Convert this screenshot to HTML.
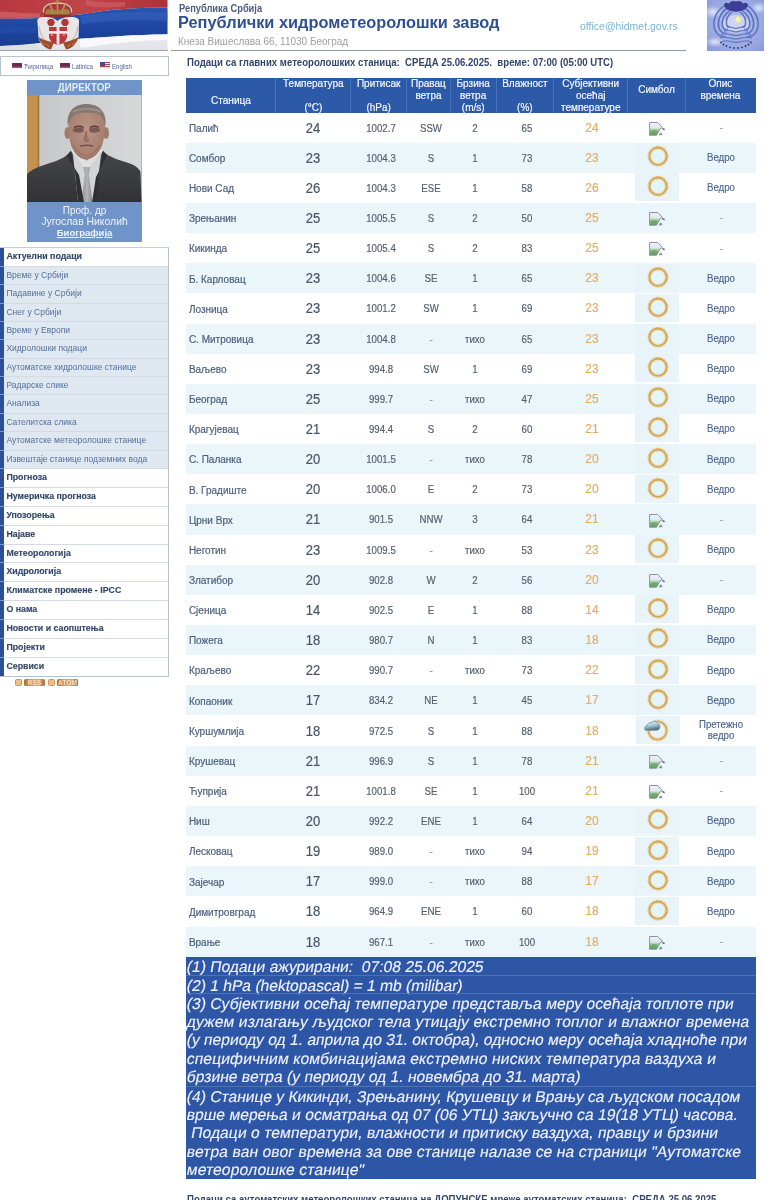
<!DOCTYPE html>
<html><head><meta charset="utf-8">
<style>
*{margin:0;padding:0;box-sizing:border-box}
html,body{width:784px;height:1200px;overflow:hidden;background:#fff}
body{position:relative;font-family:"Liberation Sans",sans-serif;color:#4b566a}
.a{position:absolute}
.hl{position:absolute;height:1px;background:#8d9aaa}
.t1{position:absolute;left:178.6px;top:3px;font-size:10px;font-weight:bold;color:#4a5d82;white-space:nowrap;transform:scaleX(0.93);transform-origin:0 0}
.t2{position:absolute;left:178px;top:12.4px;font-size:17.4px;font-weight:bold;color:#2e5092;white-space:nowrap;transform:scaleX(0.94);transform-origin:0 0}
.t3{position:absolute;left:178px;top:36px;font-size:10px;color:#a0a0a0;white-space:nowrap}
.mail{position:absolute;left:580px;top:19.5px;font-size:10.5px;color:#7cb6d8;white-space:nowrap}
.lang{position:absolute;left:0;top:55.9px;width:169px;height:20px;border:1.4px solid #b9c3cf;border-left-width:1.2px}
.lang span{position:absolute;top:6px;font-size:7px;color:#56659a;white-space:nowrap;transform:scaleX(0.87);transform-origin:0 0}
.fl{position:absolute;height:5px}
.dir{position:absolute;left:27.3px;top:80.3px;width:114.5px;height:161.6px;background:#6f94ca}
.dir .h{position:absolute;left:0;top:0;width:100%;height:14.3px;line-height:14.3px;text-align:center;font-weight:bold;font-size:11px;color:#e4ecf8;transform:scaleX(0.89)}
.dir .cap{position:absolute;left:0;width:100%;text-align:center;color:#eef3fb;white-space:nowrap}
.menu{position:absolute;left:0;top:247.3px;width:169.4px;border:1.2px solid #b8c3d0;border-left:none;border-top-color:#c4cdd8}
.mi,.si{position:absolute;left:0;width:168.5px;padding-left:6.4px;white-space:nowrap;border-top:1px solid #d2dbe5}
.mi{background:#fff;font-weight:bold;font-size:8.8px;color:#34496a;-webkit-text-stroke:0.15px currentColor}
.si{background:#dfe7f0;font-size:8.5px;color:#52709c}
.stp{position:absolute;left:0;width:3.9px;background:#2b4f99;border-top:1px solid #7f97c6}
.head{position:absolute;left:186.7px;top:55.8px;font-size:11px;font-weight:bold;color:#34466a;white-space:nowrap;transform:scaleX(0.873);transform-origin:0 0}
.thead{position:absolute;background:#2c5aa8}
.th{position:absolute;height:34.5px;padding-top:0.4px;text-align:center;color:#f2f5fb;font-size:10px;line-height:11.75px;white-space:nowrap;-webkit-text-stroke:0.2px #f2f5fb}
.th.c1{padding-top:17.4px;font-size:10.1px}
.th.c8{padding-top:5.7px}
.tsep{position:absolute;width:1px;background:#4a72b8}
.row{position:absolute;left:186px;width:569.5px;height:30.15px}
.rowb{background:#eaf6f9}
.roww{background:#fff}
.cell{position:absolute;height:30.15px;line-height:30.15px;padding-top:0.9px;font-size:10px;white-space:nowrap;color:#56616f;-webkit-text-stroke:0.2px currentColor}
.cell.st{padding-top:1.3px;color:#4f6280}
.cell.c{width:80px;text-align:center;padding-top:0}
.cell.tp{font-size:14px;color:#4a5567;transform:scaleX(0.93)}
.cell.n{font-size:11.5px;transform:scaleX(0.84)}
.cell.sj{font-size:13px;color:#e2ad6a;transform:scaleX(0.92)}
.cell.op{color:#52698f;font-size:11.5px;transform:scaleX(0.84);margin-top:-0.6px}
.cell.dm{color:#8e98a4}
.cell.ds{color:#a0a8b4;font-size:11px;padding-top:0;margin-top:-0.5px}
.cell.two{line-height:11.2px;padding-top:3.6px;font-size:11.5px}
.img{position:absolute;width:44px;height:28px}
.img svg,.bimg svg{display:block}
.bimg{position:absolute;width:17px;height:14px}
.notes{position:absolute;left:186px;width:569.5px;background:#2d56a6}
.nsep{position:absolute;left:186px;width:569.5px;height:1px;background:#4d72b8}
.nl{position:absolute;left:186.3px;font-size:15.7px;line-height:18.35px;color:#eef0fc;white-space:nowrap;-webkit-text-stroke:0.15px #eef0fc;transform:skewX(-10deg);transform-origin:0 14px}
.foot{position:absolute;left:186.7px;top:1193.4px;font-size:11px;font-weight:bold;color:#34466a;white-space:nowrap;transform:scaleX(0.873);transform-origin:0 0}
.rb{position:absolute;top:679px;height:7.4px;width:30.2px}
.rb i{position:absolute;left:0;top:0;width:7.2px;height:7.4px;background:#efbf88;border:1px solid #cf915a;border-radius:1.5px}
.rb b{position:absolute;left:8.6px;top:0;width:21.6px;height:7.4px;background:linear-gradient(90deg,#b06a38,#d49a66 30%,#e0aa78 70%,#b06a38);border-radius:1.5px;font-size:6.3px;line-height:7.4px;text-align:center;color:#f6dfbe;letter-spacing:0.3px}
#wrap{position:absolute;left:0;top:0;width:784px;height:1200px;filter:blur(0.5px)}
</style></head><body><div id="wrap">

<!-- FLAG -->
<svg class="a" style="left:0;top:0" width="168" height="51" viewBox="0 0 168 51">
<defs>
<linearGradient id="wg" x1="0" y1="0" x2="0" y2="1"><stop offset="0" stop-color="#f6f6f8"/><stop offset="1" stop-color="#e2e3e8"/></linearGradient>
<linearGradient id="rg" x1="0" y1="0" x2="1" y2="0"><stop offset="0" stop-color="#b8383f"/><stop offset="0.5" stop-color="#c0454b"/><stop offset="1" stop-color="#b03038"/></linearGradient>
<linearGradient id="bg" x1="0" y1="0" x2="0" y2="1"><stop offset="0" stop-color="#2a55b0"/><stop offset="0.5" stop-color="#1d46a2"/><stop offset="1" stop-color="#183d92"/></linearGradient>
</defs>
<rect x="0" y="0" width="167.5" height="50.5" fill="url(#wg)"/>
<path d="M0 0 H167.5 V7.5 C150 7.6 132 8.2 118 9.5 C100 11 92 13 80 14.5 C60 17 35 19 0 18.8 Z" fill="url(#rg)"/>
<path d="M0 11.5 C15 12.5 30 13.5 40 13.5 L40 17.5 C28 18 14 18 0 17.5 Z" fill="#d2646a" opacity="0.75"/>
<path d="M86 0 C95 2 105 3 125 2 L125 6.5 C108 8 98 8 86 5 Z" fill="#d0646a" opacity="0.6"/>
<path d="M0 18.8 C35 19 60 17 80 14.5 C92 13 100 11 118 9.5 C132 8.2 150 7.6 167.5 7.5 V34.3 C150 34.8 135 35.2 125 35.8 C105 37 92 38.2 80 38.8 C55 41 30 45 0 46 Z" fill="url(#bg)"/>
<path d="M80 16 C95 13.5 120 11.5 167.5 12.5 V21 C140 19.5 110 20 82 24 Z" fill="#3764bf" opacity="0.55"/>
<path d="M0 27 C10 26 25 26 36 27 V33 C25 32.5 10 32.5 0 33 Z" fill="#2550ac" opacity="0.5"/>
<path d="M80 38.8 C92 38.2 105 37 125 35.8 C135 35.2 150 34.8 167.5 34.3 V40 C140 40.5 115 43 95 46 C88 47 84 47.5 80 47.5 Z" fill="#f9f9fb"/>
<path d="M0 46 C20 45.3 30 44.5 37 44 V50.5 H0 Z" fill="#dfe0e5"/>
<!-- coat of arms -->
<path d="M42.5 13 C41 6 47 2 57.5 2 C68 2 74 6 72.5 13 L71 16 H44 Z" fill="#a63a3e"/>
<path d="M43.5 12.5 C42.5 6.5 48 3 57.5 3 C67 3 72.5 6.5 71.5 12.5" fill="none" stroke="#d8c8b0" stroke-width="1.4"/>
<path d="M57.5 3 V15 M50 4.5 C52 8 53 11 53 15 M65 4.5 C63 8 62 11 62 15" fill="none" stroke="#b49a48" stroke-width="1.6"/>
<path d="M46 10 C50 8 54 9 57.5 11 C61 9 65 8 69 10 L70 15 H45 Z" fill="#a88c42" opacity="0.85"/>
<path d="M56.5 0 H58.5 V3 H56.5 Z" fill="#b49a48"/>
<path d="M44 14.5 H71 V17 H44 Z" fill="#8e2e34"/>
<path d="M37.5 22 C36.5 18 40 16.5 46 17 C52 17.5 55 19 57.5 21 C60 19 63 17.5 69 17 C75 16.5 80 18 79 22 L78.5 38 C76.5 45 70 49.5 58 49.5 C46.5 49.5 40 45 38.5 38 Z" fill="#e9e4e6"/>
<circle cx="51" cy="22.5" r="4.2" fill="#a8383e"/><circle cx="51" cy="22.5" r="4.2" fill="none" stroke="#efe8e8" stroke-width="1"/>
<circle cx="65" cy="22.5" r="4.2" fill="#a8383e"/><circle cx="65" cy="22.5" r="4.2" fill="none" stroke="#efe8e8" stroke-width="1"/>
<path d="M39 26 C40 33 42 38 46 41 M78 26 C77 33 75 38 71 41" stroke="#c9bcbc" stroke-width="1.4" fill="none"/>
<path d="M49 27 H67 V37 C66 42 62 44.5 58 44.5 C54 44.5 50 42 49 37 Z" fill="#b9383e"/>
<path d="M56.6 27 H59.4 V44.5 H56.6 Z M49 31 H67 V33.8 H49 Z" fill="#f1e9e9"/>
<path d="M51 35.5 C51 34.6 52.6 34.6 53 35.5 M63 35.5 C63 34.6 64.6 34.6 65 35.5" stroke="#f1e9e9" stroke-width="1" fill="none"/>
<path d="M38.5 37 C40 43 44.5 48.5 51 49.5 L54 42.5 C48 41.5 42 39.5 38.5 37 Z M78.5 37 C77 43 72.5 48.5 66 49.5 L63 42.5 C69 41.5 75 39.5 78.5 37 Z" fill="#9a4e2c"/>
<path d="M42 42 L45 45 M47 44 L49 47 M75 42 L72 45 M70 44 L68 47" stroke="#c8824a" stroke-width="1"/>
</svg>
<div class="hl" style="left:0;top:50.2px;width:167.5px;background:#9aa3b0"></div>
<div class="hl" style="left:170.6px;top:50.2px;width:515.6px"></div>

<div class="t1">Република Србија</div>
<div class="t2">Републички хидрометеоролошки завод</div>
<div class="t3">Кнеза Вишеслава 66, 11030 Београд</div>
<div class="mail">office@hidmet.gov.rs</div>

<!-- LOGO -->
<svg class="a" style="left:707.4px;top:0" width="57" height="51" viewBox="0 0 57 51">
<defs>
<radialGradient id="lg" cx="0.5" cy="0.45" r="0.75"><stop offset="0" stop-color="#b4c0ee"/><stop offset="0.7" stop-color="#97a7e0"/><stop offset="1" stop-color="#8797d8"/></radialGradient>
<radialGradient id="lw" cx="0.5" cy="0.5" r="0.5"><stop offset="0" stop-color="#e8ecfa" stop-opacity="0.9"/><stop offset="1" stop-color="#e8ecfa" stop-opacity="0"/></radialGradient>
</defs>
<rect width="57" height="51" fill="url(#lg)"/>
<ellipse cx="6" cy="12" rx="10" ry="6" fill="url(#lw)"/>
<ellipse cx="52" cy="8" rx="8" ry="6" fill="url(#lw)"/>
<ellipse cx="8" cy="42" rx="10" ry="5" fill="url(#lw)"/>
<ellipse cx="29" cy="24" rx="13" ry="9" fill="#d6dcf4" opacity="0.8"/>
<g fill="none" stroke="#5c6fc0" stroke-width="1.5">
<path d="M17 6 C8 12 5 22 8 30 C10 35 14 37 19 37"/>
<path d="M20 8.5 C12.5 13 10 22 12 28.5 C13.5 32 16 33.5 20 33.5"/>
<path d="M23 10.5 C16.5 15 14.5 21 15.5 26 C16.5 29 18.5 30 21 30"/>
<path d="M25 12 C20 16 19 21 19.5 24.5 C20 26.5 21 27 23 27"/>
<path d="M41 6 C50 12 53 22 50 30 C48 35 44 37 39 37"/>
<path d="M38 8.5 C45.5 13 48 22 46 28.5 C44.5 32 42 33.5 38 33.5"/>
<path d="M35 10.5 C41.5 15 43.5 21 42.5 26 C41.5 29 39.5 30 37 30"/>
<path d="M33 12 C38 16 39 21 38.5 24.5 C38 26.5 37 27 35 27"/>
</g>
<g fill="none" stroke="#6a7ec8" stroke-width="1.4">
<path d="M20 27.5 C24 26 27 28.5 29 28.5 C31 28.5 34 26 38 27.5"/>
<path d="M17 31 C22 29 26 32 29 32 C32 32 36 29 41 31"/>
<path d="M14 34.5 C20 32.5 25 35.5 29 35.5 C33 35.5 38 32.5 44 34.5"/>
<path d="M13 38 C19 36 25 39 29 39 C33 39 39 36 45 38"/>
<path d="M15 41.5 C21 39.5 25 42.5 29 42.5 C33 42.5 37 39.5 43 41.5"/>
</g>
<path d="M17 5 C17 2.5 20 2.3 22 3.5 C23.5 0.8 27 0.5 29 1.5 C31 0.5 34.5 0.8 36 3.5 C38 2.3 41 2.5 41 5 C41 8 36 11.5 29 11.8 C22 11.5 17 8 17 5 Z" fill="#3c3f94"/>
<path d="M31 15.5 L34.5 19.5 L31 23.5 L27.5 19.5 Z" fill="#e8ee8a"/>
<circle cx="31" cy="19.5" r="2.2" fill="#f6f8b0"/>
<g fill="#2e3478"><circle cx="14" cy="42.5" r="0.9"/><circle cx="16.5" cy="44.5" r="0.9"/><circle cx="19.5" cy="46" r="0.9"/><circle cx="23" cy="47.3" r="0.9"/><circle cx="27" cy="48" r="0.9"/><circle cx="31" cy="48" r="0.9"/><circle cx="35" cy="47.3" r="0.9"/><circle cx="38.5" cy="46" r="0.9"/><circle cx="41.5" cy="44.5" r="0.9"/><circle cx="44" cy="42.5" r="0.9"/></g>
</svg>

<!-- LANGUAGE -->
<div class="lang">
 <div class="fl" style="left:11.3px;top:6.2px;width:10.2px;height:4.6px;background:linear-gradient(#7a2444,#6a2a55 60%,#a07090)"></div>
 <span style="left:23.2px">Ћирилица</span>
 <div class="fl" style="left:59.4px;top:6.2px;width:10px;height:4.6px;background:linear-gradient(#7a2444,#6a2a55 60%,#a07090)"></div>
 <span style="left:70.7px">Latinica</span>
 <div class="fl" style="left:99.2px;top:5.6px;width:9.8px;height:6px;background:repeating-linear-gradient(#b04050 0 1px,#f0e0e8 1px 2px)"><div style="width:5px;height:3.5px;background:#4a4a8a"></div></div>
 <span style="left:110.8px">English</span>
</div>

<!-- DIRECTOR -->
<div class="dir">
 <div class="h">ДИРЕКТОР</div>
 <svg class="a" style="left:0;top:14.3px" width="114.5" height="107.2" viewBox="0 0 114.5 107.2">
  <defs>
   <linearGradient id="pbg" x1="0" y1="0" x2="1" y2="0"><stop offset="0" stop-color="#c4c6c8"/><stop offset="1" stop-color="#d6d8d9"/></linearGradient>
   <radialGradient id="face" cx="0.5" cy="0.45" r="0.6"><stop offset="0" stop-color="#b99484"/><stop offset="0.8" stop-color="#a88070"/><stop offset="1" stop-color="#8e6a5e"/></radialGradient>
   <linearGradient id="suit" x1="0" y1="0" x2="0" y2="1"><stop offset="0" stop-color="#45474b"/><stop offset="1" stop-color="#303236"/></linearGradient>
   <linearGradient id="tie" x1="0" y1="0" x2="1" y2="0"><stop offset="0" stop-color="#8e9098"/><stop offset="0.5" stop-color="#b2b4ba"/><stop offset="1" stop-color="#85878f"/></linearGradient>
  </defs>
  <rect width="114.5" height="107.2" fill="url(#pbg)"/>
  <rect x="0" y="0" width="12.2" height="78" fill="#c2924e"/>
  <rect x="10.6" y="0" width="1.6" height="78" fill="#a37a42"/>
  <!-- suit -->
  <path d="M0 79 C4 75 10 72 20 69 C30 66 38 63 43 57 L50 54.5 H70 L77 57 C82 62 92 65 100 67.5 C108 70 112 73 113.5 77 L114.5 107.2 H0 Z" fill="url(#suit)"/>
  <!-- neck -->
  <path d="M47 49 H72 V59 L59.7 69 L47 59 Z" fill="#9c7464"/>
  <!-- shirt -->
  <path d="M44 55.5 L59.7 75 L76 55.5 L74 60 L68 107.2 H51 L46 60 Z" fill="#d3d4d6"/>
  <path d="M44 55.5 L52 53.5 L59.7 66 L67 53.5 L76 55.5 L59.7 76 Z" fill="#e0e0e2"/>
  <!-- tie -->
  <path d="M56.5 72 H63 L61.8 79 L65.5 107.2 H54.5 L57.8 79 Z" fill="url(#tie)"/>
  <!-- lapels -->
  <path d="M44 55.5 L40 61 L52 80 L57 107.2 H51 L48 78 Z" fill="#2e3034"/>
  <path d="M76 55.5 L80 61 L69 82 L65 107.2 H69 L72 80 Z" fill="#2e3034"/>
  <!-- ears -->
  <ellipse cx="40.5" cy="38" rx="3" ry="6" fill="#a27a6a"/>
  <ellipse cx="79" cy="38" rx="3" ry="6" fill="#a27a6a"/>
  <!-- head -->
  <path d="M41.5 30 C41 17 48 10 59.5 10 C71 10 78.5 17 78 30 C78 42 76 52 70 59 C66 63 62 64.5 59.5 64.5 C57 64.5 52 63 48.5 58.5 C43 51 41.5 42 41.5 30 Z" fill="url(#face)"/>
  <path d="M41 31 C39 18 46 9 59.5 9 C73 9 80 18 78.5 31 C77 24 75 20 70 18.5 C63 17 55 17 49 19 C45 21 42 25 41 31 Z" fill="#837870"/>
  <path d="M46 17 C52 13 66 12.5 74 17" stroke="#9a8e86" stroke-width="2.2" fill="none"/>
  <path d="M46 34 C50 32 55 32 57 34 L56 37 C53 38 49 38 46 36 Z M62 34 C64 32 69 32 73 34 L73 36 C70 38 66 38 63 37 Z" fill="#7a5a50"/>
  <path d="M47 32.5 C50 31 54 31 56.5 32.5 M63 32.5 C65.5 31 69 31 72 32.5" stroke="#5a3e36" stroke-width="1.4" fill="none"/>
  <path d="M59.5 36 L57.5 45 C58.5 46.5 61 46.5 62 45" stroke="#8a6052" stroke-width="1.2" fill="#a27a6a"/>
  <path d="M53 51 C57 50 62 50 66 51" stroke="#7a4e44" stroke-width="1.6" fill="none"/>
  <path d="M46 50 C50 57 55 60 59.5 60.5 C64 60 69 57 73 50" stroke="#98705f" stroke-width="1.2" fill="none"/>
 </svg>
 <div class="cap" style="top:124.3px;font-size:10px">Проф. др</div>
 <div class="cap" style="top:135.9px;font-size:10.4px">Југослав Николић</div>
 <div class="cap" style="top:146.3px;font-size:9.5px;font-weight:bold;text-decoration:underline">Биографија</div>
</div>

<!-- MENU -->
<div class="mi" style="top:247.30px;height:19.70px;line-height:17.10px">Актуелни подаци</div>
<div class="stp" style="top:247.30px;height:19.70px"></div>
<div class="si" style="top:266.00px;height:19.35px;line-height:16.75px">Време у Србији</div>
<div class="stp" style="top:266.00px;height:19.35px"></div>
<div class="si" style="top:284.35px;height:19.35px;line-height:16.75px">Падавине у Србији</div>
<div class="stp" style="top:284.35px;height:19.35px"></div>
<div class="si" style="top:302.70px;height:19.35px;line-height:16.75px">Снег у Србији</div>
<div class="stp" style="top:302.70px;height:19.35px"></div>
<div class="si" style="top:321.05px;height:19.35px;line-height:16.75px">Време у Европи</div>
<div class="stp" style="top:321.05px;height:19.35px"></div>
<div class="si" style="top:339.40px;height:19.35px;line-height:16.75px">Хидролошки подаци</div>
<div class="stp" style="top:339.40px;height:19.35px"></div>
<div class="si" style="top:357.75px;height:19.35px;line-height:16.75px">Аутоматске хидролошке станице</div>
<div class="stp" style="top:357.75px;height:19.35px"></div>
<div class="si" style="top:376.10px;height:19.35px;line-height:16.75px">Радарске слике</div>
<div class="stp" style="top:376.10px;height:19.35px"></div>
<div class="si" style="top:394.45px;height:19.35px;line-height:16.75px">Анализа</div>
<div class="stp" style="top:394.45px;height:19.35px"></div>
<div class="si" style="top:412.80px;height:19.35px;line-height:16.75px">Сателитска слика</div>
<div class="stp" style="top:412.80px;height:19.35px"></div>
<div class="si" style="top:431.15px;height:19.35px;line-height:16.75px">Аутоматске метеоролошке станице</div>
<div class="stp" style="top:431.15px;height:19.35px"></div>
<div class="si" style="top:449.50px;height:19.35px;line-height:16.75px">Извештаје станице подземних вода</div>
<div class="stp" style="top:449.50px;height:19.35px"></div>
<div class="mi" style="top:467.85px;height:19.92px;line-height:17.32px">Прогноза</div>
<div class="stp" style="top:467.85px;height:19.92px"></div>
<div class="mi" style="top:486.77px;height:19.92px;line-height:17.32px">Нумеричка прогноза</div>
<div class="stp" style="top:486.77px;height:19.92px"></div>
<div class="mi" style="top:505.69px;height:19.92px;line-height:17.32px">Упозорења</div>
<div class="stp" style="top:505.69px;height:19.92px"></div>
<div class="mi" style="top:524.61px;height:19.92px;line-height:17.32px">Најаве</div>
<div class="stp" style="top:524.61px;height:19.92px"></div>
<div class="mi" style="top:543.53px;height:19.92px;line-height:17.32px">Метеорологија</div>
<div class="stp" style="top:543.53px;height:19.92px"></div>
<div class="mi" style="top:562.45px;height:19.92px;line-height:17.32px">Хидрологија</div>
<div class="stp" style="top:562.45px;height:19.92px"></div>
<div class="mi" style="top:581.37px;height:19.92px;line-height:17.32px">Климатске промене - IPCC</div>
<div class="stp" style="top:581.37px;height:19.92px"></div>
<div class="mi" style="top:600.29px;height:19.92px;line-height:17.32px">О нама</div>
<div class="stp" style="top:600.29px;height:19.92px"></div>
<div class="mi" style="top:619.21px;height:19.92px;line-height:17.32px">Новости и саопштења</div>
<div class="stp" style="top:619.21px;height:19.92px"></div>
<div class="mi" style="top:638.13px;height:19.92px;line-height:17.32px">Пројекти</div>
<div class="stp" style="top:638.13px;height:19.92px"></div>
<div class="mi" style="top:657.05px;height:19.92px;line-height:17.32px">Сервиси</div>
<div class="stp" style="top:657.05px;height:18.92px"></div>
<div class="menu" style="height:calc(675.97px - 247.3px + 1.2px)"></div>

<div class="rb" style="left:15.2px"><i></i><b>RSS</b></div>
<div class="rb" style="left:48.3px"><i></i><b>ATOM</b></div>

<div class="head">Подаци са главних метеоролошких станица:&nbsp; СРЕДА 25.06.2025.&nbsp; време: 07:00 (05:00 UTC)</div>

<div class="thead" style="left:186.0px;top:78.0px;width:569.5px;height:34.5px"></div>
<div class="th c1" style="left:186.0px;width:89.89999999999998px;top:78.0px">Станица</div>
<div class="th " style="left:275.9px;width:74.90000000000003px;top:78.0px">Температура<br><br>(°C)</div>
<div class="th " style="left:350.8px;width:55.69999999999999px;top:78.0px">Притисак<br><br>(hPa)</div>
<div class="th " style="left:406.5px;width:43.89999999999998px;top:78.0px">Правац<br>ветра</div>
<div class="th " style="left:450.4px;width:45.60000000000002px;top:78.0px">Брзина<br>ветра<br>(m/s)</div>
<div class="th " style="left:496.0px;width:57.700000000000045px;top:78.0px">Влажност<br><br>(%)</div>
<div class="th " style="left:553.7px;width:74.09999999999991px;top:78.0px">Субјективни<br>осећај<br>температуре</div>
<div class="th c8" style="left:627.8px;width:57.5px;top:78.0px">Симбол</div>
<div class="th " style="left:685.3px;width:70.20000000000005px;top:78.0px">Опис<br>времена</div>
<div class="tsep" style="left:275.4px;top:78.0px;height:34.5px"></div>
<div class="tsep" style="left:350.3px;top:78.0px;height:34.5px"></div>
<div class="tsep" style="left:406.0px;top:78.0px;height:34.5px"></div>
<div class="tsep" style="left:449.9px;top:78.0px;height:34.5px"></div>
<div class="tsep" style="left:495.5px;top:78.0px;height:34.5px"></div>
<div class="tsep" style="left:553.2px;top:78.0px;height:34.5px"></div>
<div class="tsep" style="left:627.3px;top:78.0px;height:34.5px"></div>
<div class="tsep" style="left:684.8px;top:78.0px;height:34.5px"></div>
<div class="row roww" style="top:112.50px"></div>
<div class="cell st" style="top:112.50px;left:188.9px">Палић</div>
<div class="cell c tp" style="top:112.50px;left:273.2px">24</div>
<div class="cell c n" style="top:112.50px;left:341.3px">1002.7</div>
<div class="cell c n" style="top:112.50px;left:390.8px">SSW</div>
<div class="cell c n" style="top:112.50px;left:435.3px">2</div>
<div class="cell c n" style="top:112.50px;left:487.0px">65</div>
<div class="cell c sj" style="top:112.50px;left:551.8px">24</div>
<div class="bimg" style="top:121.80px;left:649.4px"><svg width="17" height="14" viewBox="0 0 17 14">
<defs><linearGradient id="bg1" x1="0" y1="0" x2="0" y2="1"><stop offset="0" stop-color="#eef1fa"/><stop offset="0.45" stop-color="#dfe6f2"/><stop offset="0.5" stop-color="#b9dcb6"/><stop offset="1" stop-color="#4f8f4c"/></linearGradient></defs>
<path d="M0.6 0.5 H8.6 L13.3 5.2 L11.2 6.8 L9.8 9.2 L7.5 13.2 H0.6 Z" fill="url(#bg1)" stroke="#8d93a3" stroke-width="1"/>
<path d="M1.2 12.6 V9.5 C3.5 7.6 6.5 7.6 9.2 9.5 L7.2 12.6 Z" fill="#6aa865" opacity="0.8"/>
<path d="M13.2 6.4 L15.6 7.8" stroke="#6e7484" stroke-width="1.6"/>
<path d="M9.6 13.2 L11.4 10.4 L13.2 11.4 V13.2 Z" fill="#8a8f98"/>
</svg></div>
<div class="cell c ds" style="top:112.50px;left:681.3px">-</div>
<div class="row rowb" style="top:142.65px"></div>
<div class="cell st" style="top:142.65px;left:188.9px">Сомбор</div>
<div class="cell c tp" style="top:142.65px;left:273.2px">23</div>
<div class="cell c n" style="top:142.65px;left:341.3px">1004.3</div>
<div class="cell c n" style="top:142.65px;left:390.8px">S</div>
<div class="cell c n" style="top:142.65px;left:435.3px">1</div>
<div class="cell c n" style="top:142.65px;left:487.0px">73</div>
<div class="cell c sj" style="top:142.65px;left:551.8px">23</div>
<div class="img" style="top:143.05px;left:635.3px"><svg width="44" height="28" viewBox="0 0 44 28"><rect width="44" height="28" fill="#e8f4fa"/>
<circle cx="23" cy="13.2" r="9.9" fill="none" stroke="#dcbc7c" stroke-width="1.2" stroke-dasharray="1.1 1.0"/>
<circle cx="23" cy="13.2" r="8.5" fill="none" stroke="#d0a95a" stroke-width="2.2"/>
<circle cx="23" cy="13.2" r="7.0" fill="none" stroke="#f4dcb0" stroke-width="1.1"/>
<circle cx="23" cy="13.2" r="6.3" fill="#e2f4fc"/>
</svg></div>
<div class="cell c op" style="top:142.65px;left:681.3px">Ведро</div>
<div class="row roww" style="top:172.80px"></div>
<div class="cell st" style="top:172.80px;left:188.9px">Нови Сад</div>
<div class="cell c tp" style="top:172.80px;left:273.2px">26</div>
<div class="cell c n" style="top:172.80px;left:341.3px">1004.3</div>
<div class="cell c n" style="top:172.80px;left:390.8px">ESE</div>
<div class="cell c n" style="top:172.80px;left:435.3px">1</div>
<div class="cell c n" style="top:172.80px;left:487.0px">58</div>
<div class="cell c sj" style="top:172.80px;left:551.8px">26</div>
<div class="img" style="top:173.20px;left:635.3px"><svg width="44" height="28" viewBox="0 0 44 28"><rect width="44" height="28" fill="#e8f4fa"/>
<circle cx="23" cy="13.2" r="9.9" fill="none" stroke="#dcbc7c" stroke-width="1.2" stroke-dasharray="1.1 1.0"/>
<circle cx="23" cy="13.2" r="8.5" fill="none" stroke="#d0a95a" stroke-width="2.2"/>
<circle cx="23" cy="13.2" r="7.0" fill="none" stroke="#f4dcb0" stroke-width="1.1"/>
<circle cx="23" cy="13.2" r="6.3" fill="#e2f4fc"/>
</svg></div>
<div class="cell c op" style="top:172.80px;left:681.3px">Ведро</div>
<div class="row rowb" style="top:202.95px"></div>
<div class="cell st" style="top:202.95px;left:188.9px">Зрењанин</div>
<div class="cell c tp" style="top:202.95px;left:273.2px">25</div>
<div class="cell c n" style="top:202.95px;left:341.3px">1005.5</div>
<div class="cell c n" style="top:202.95px;left:390.8px">S</div>
<div class="cell c n" style="top:202.95px;left:435.3px">2</div>
<div class="cell c n" style="top:202.95px;left:487.0px">50</div>
<div class="cell c sj" style="top:202.95px;left:551.8px">25</div>
<div class="bimg" style="top:212.25px;left:649.4px"><svg width="17" height="14" viewBox="0 0 17 14">
<defs><linearGradient id="bg1" x1="0" y1="0" x2="0" y2="1"><stop offset="0" stop-color="#eef1fa"/><stop offset="0.45" stop-color="#dfe6f2"/><stop offset="0.5" stop-color="#b9dcb6"/><stop offset="1" stop-color="#4f8f4c"/></linearGradient></defs>
<path d="M0.6 0.5 H8.6 L13.3 5.2 L11.2 6.8 L9.8 9.2 L7.5 13.2 H0.6 Z" fill="url(#bg1)" stroke="#8d93a3" stroke-width="1"/>
<path d="M1.2 12.6 V9.5 C3.5 7.6 6.5 7.6 9.2 9.5 L7.2 12.6 Z" fill="#6aa865" opacity="0.8"/>
<path d="M13.2 6.4 L15.6 7.8" stroke="#6e7484" stroke-width="1.6"/>
<path d="M9.6 13.2 L11.4 10.4 L13.2 11.4 V13.2 Z" fill="#8a8f98"/>
</svg></div>
<div class="cell c ds" style="top:202.95px;left:681.3px">-</div>
<div class="row roww" style="top:233.10px"></div>
<div class="cell st" style="top:233.10px;left:188.9px">Кикинда</div>
<div class="cell c tp" style="top:233.10px;left:273.2px">25</div>
<div class="cell c n" style="top:233.10px;left:341.3px">1005.4</div>
<div class="cell c n" style="top:233.10px;left:390.8px">S</div>
<div class="cell c n" style="top:233.10px;left:435.3px">2</div>
<div class="cell c n" style="top:233.10px;left:487.0px">83</div>
<div class="cell c sj" style="top:233.10px;left:551.8px">25</div>
<div class="bimg" style="top:242.40px;left:649.4px"><svg width="17" height="14" viewBox="0 0 17 14">
<defs><linearGradient id="bg1" x1="0" y1="0" x2="0" y2="1"><stop offset="0" stop-color="#eef1fa"/><stop offset="0.45" stop-color="#dfe6f2"/><stop offset="0.5" stop-color="#b9dcb6"/><stop offset="1" stop-color="#4f8f4c"/></linearGradient></defs>
<path d="M0.6 0.5 H8.6 L13.3 5.2 L11.2 6.8 L9.8 9.2 L7.5 13.2 H0.6 Z" fill="url(#bg1)" stroke="#8d93a3" stroke-width="1"/>
<path d="M1.2 12.6 V9.5 C3.5 7.6 6.5 7.6 9.2 9.5 L7.2 12.6 Z" fill="#6aa865" opacity="0.8"/>
<path d="M13.2 6.4 L15.6 7.8" stroke="#6e7484" stroke-width="1.6"/>
<path d="M9.6 13.2 L11.4 10.4 L13.2 11.4 V13.2 Z" fill="#8a8f98"/>
</svg></div>
<div class="cell c ds" style="top:233.10px;left:681.3px">-</div>
<div class="row rowb" style="top:263.25px"></div>
<div class="cell st" style="top:263.25px;left:188.9px">Б. Карловац</div>
<div class="cell c tp" style="top:263.25px;left:273.2px">23</div>
<div class="cell c n" style="top:263.25px;left:341.3px">1004.6</div>
<div class="cell c n" style="top:263.25px;left:390.8px">SE</div>
<div class="cell c n" style="top:263.25px;left:435.3px">1</div>
<div class="cell c n" style="top:263.25px;left:487.0px">65</div>
<div class="cell c sj" style="top:263.25px;left:551.8px">23</div>
<div class="img" style="top:263.65px;left:635.3px"><svg width="44" height="28" viewBox="0 0 44 28"><rect width="44" height="28" fill="#e8f4fa"/>
<circle cx="23" cy="13.2" r="9.9" fill="none" stroke="#dcbc7c" stroke-width="1.2" stroke-dasharray="1.1 1.0"/>
<circle cx="23" cy="13.2" r="8.5" fill="none" stroke="#d0a95a" stroke-width="2.2"/>
<circle cx="23" cy="13.2" r="7.0" fill="none" stroke="#f4dcb0" stroke-width="1.1"/>
<circle cx="23" cy="13.2" r="6.3" fill="#e2f4fc"/>
</svg></div>
<div class="cell c op" style="top:263.25px;left:681.3px">Ведро</div>
<div class="row roww" style="top:293.40px"></div>
<div class="cell st" style="top:293.40px;left:188.9px">Лозница</div>
<div class="cell c tp" style="top:293.40px;left:273.2px">23</div>
<div class="cell c n" style="top:293.40px;left:341.3px">1001.2</div>
<div class="cell c n" style="top:293.40px;left:390.8px">SW</div>
<div class="cell c n" style="top:293.40px;left:435.3px">1</div>
<div class="cell c n" style="top:293.40px;left:487.0px">69</div>
<div class="cell c sj" style="top:293.40px;left:551.8px">23</div>
<div class="img" style="top:293.80px;left:635.3px"><svg width="44" height="28" viewBox="0 0 44 28"><rect width="44" height="28" fill="#e8f4fa"/>
<circle cx="23" cy="13.2" r="9.9" fill="none" stroke="#dcbc7c" stroke-width="1.2" stroke-dasharray="1.1 1.0"/>
<circle cx="23" cy="13.2" r="8.5" fill="none" stroke="#d0a95a" stroke-width="2.2"/>
<circle cx="23" cy="13.2" r="7.0" fill="none" stroke="#f4dcb0" stroke-width="1.1"/>
<circle cx="23" cy="13.2" r="6.3" fill="#e2f4fc"/>
</svg></div>
<div class="cell c op" style="top:293.40px;left:681.3px">Ведро</div>
<div class="row rowb" style="top:323.55px"></div>
<div class="cell st" style="top:323.55px;left:188.9px">С. Митровица</div>
<div class="cell c tp" style="top:323.55px;left:273.2px">23</div>
<div class="cell c n" style="top:323.55px;left:341.3px">1004.8</div>
<div class="cell c n dm" style="top:323.55px;left:390.8px">-</div>
<div class="cell c n" style="top:323.55px;left:435.3px">тихо</div>
<div class="cell c n" style="top:323.55px;left:487.0px">65</div>
<div class="cell c sj" style="top:323.55px;left:551.8px">23</div>
<div class="img" style="top:323.95px;left:635.3px"><svg width="44" height="28" viewBox="0 0 44 28"><rect width="44" height="28" fill="#e8f4fa"/>
<circle cx="23" cy="13.2" r="9.9" fill="none" stroke="#dcbc7c" stroke-width="1.2" stroke-dasharray="1.1 1.0"/>
<circle cx="23" cy="13.2" r="8.5" fill="none" stroke="#d0a95a" stroke-width="2.2"/>
<circle cx="23" cy="13.2" r="7.0" fill="none" stroke="#f4dcb0" stroke-width="1.1"/>
<circle cx="23" cy="13.2" r="6.3" fill="#e2f4fc"/>
</svg></div>
<div class="cell c op" style="top:323.55px;left:681.3px">Ведро</div>
<div class="row roww" style="top:353.70px"></div>
<div class="cell st" style="top:353.70px;left:188.9px">Ваљево</div>
<div class="cell c tp" style="top:353.70px;left:273.2px">23</div>
<div class="cell c n" style="top:353.70px;left:341.3px">994.8</div>
<div class="cell c n" style="top:353.70px;left:390.8px">SW</div>
<div class="cell c n" style="top:353.70px;left:435.3px">1</div>
<div class="cell c n" style="top:353.70px;left:487.0px">69</div>
<div class="cell c sj" style="top:353.70px;left:551.8px">23</div>
<div class="img" style="top:354.10px;left:635.3px"><svg width="44" height="28" viewBox="0 0 44 28"><rect width="44" height="28" fill="#e8f4fa"/>
<circle cx="23" cy="13.2" r="9.9" fill="none" stroke="#dcbc7c" stroke-width="1.2" stroke-dasharray="1.1 1.0"/>
<circle cx="23" cy="13.2" r="8.5" fill="none" stroke="#d0a95a" stroke-width="2.2"/>
<circle cx="23" cy="13.2" r="7.0" fill="none" stroke="#f4dcb0" stroke-width="1.1"/>
<circle cx="23" cy="13.2" r="6.3" fill="#e2f4fc"/>
</svg></div>
<div class="cell c op" style="top:353.70px;left:681.3px">Ведро</div>
<div class="row rowb" style="top:383.85px"></div>
<div class="cell st" style="top:383.85px;left:188.9px">Београд</div>
<div class="cell c tp" style="top:383.85px;left:273.2px">25</div>
<div class="cell c n" style="top:383.85px;left:341.3px">999.7</div>
<div class="cell c n dm" style="top:383.85px;left:390.8px">-</div>
<div class="cell c n" style="top:383.85px;left:435.3px">тихо</div>
<div class="cell c n" style="top:383.85px;left:487.0px">47</div>
<div class="cell c sj" style="top:383.85px;left:551.8px">25</div>
<div class="img" style="top:384.25px;left:635.3px"><svg width="44" height="28" viewBox="0 0 44 28"><rect width="44" height="28" fill="#e8f4fa"/>
<circle cx="23" cy="13.2" r="9.9" fill="none" stroke="#dcbc7c" stroke-width="1.2" stroke-dasharray="1.1 1.0"/>
<circle cx="23" cy="13.2" r="8.5" fill="none" stroke="#d0a95a" stroke-width="2.2"/>
<circle cx="23" cy="13.2" r="7.0" fill="none" stroke="#f4dcb0" stroke-width="1.1"/>
<circle cx="23" cy="13.2" r="6.3" fill="#e2f4fc"/>
</svg></div>
<div class="cell c op" style="top:383.85px;left:681.3px">Ведро</div>
<div class="row roww" style="top:414.00px"></div>
<div class="cell st" style="top:414.00px;left:188.9px">Крагујевац</div>
<div class="cell c tp" style="top:414.00px;left:273.2px">21</div>
<div class="cell c n" style="top:414.00px;left:341.3px">994.4</div>
<div class="cell c n" style="top:414.00px;left:390.8px">S</div>
<div class="cell c n" style="top:414.00px;left:435.3px">2</div>
<div class="cell c n" style="top:414.00px;left:487.0px">60</div>
<div class="cell c sj" style="top:414.00px;left:551.8px">21</div>
<div class="img" style="top:414.40px;left:635.3px"><svg width="44" height="28" viewBox="0 0 44 28"><rect width="44" height="28" fill="#e8f4fa"/>
<circle cx="23" cy="13.2" r="9.9" fill="none" stroke="#dcbc7c" stroke-width="1.2" stroke-dasharray="1.1 1.0"/>
<circle cx="23" cy="13.2" r="8.5" fill="none" stroke="#d0a95a" stroke-width="2.2"/>
<circle cx="23" cy="13.2" r="7.0" fill="none" stroke="#f4dcb0" stroke-width="1.1"/>
<circle cx="23" cy="13.2" r="6.3" fill="#e2f4fc"/>
</svg></div>
<div class="cell c op" style="top:414.00px;left:681.3px">Ведро</div>
<div class="row rowb" style="top:444.15px"></div>
<div class="cell st" style="top:444.15px;left:188.9px">С. Паланка</div>
<div class="cell c tp" style="top:444.15px;left:273.2px">20</div>
<div class="cell c n" style="top:444.15px;left:341.3px">1001.5</div>
<div class="cell c n dm" style="top:444.15px;left:390.8px">-</div>
<div class="cell c n" style="top:444.15px;left:435.3px">тихо</div>
<div class="cell c n" style="top:444.15px;left:487.0px">78</div>
<div class="cell c sj" style="top:444.15px;left:551.8px">20</div>
<div class="img" style="top:444.55px;left:635.3px"><svg width="44" height="28" viewBox="0 0 44 28"><rect width="44" height="28" fill="#e8f4fa"/>
<circle cx="23" cy="13.2" r="9.9" fill="none" stroke="#dcbc7c" stroke-width="1.2" stroke-dasharray="1.1 1.0"/>
<circle cx="23" cy="13.2" r="8.5" fill="none" stroke="#d0a95a" stroke-width="2.2"/>
<circle cx="23" cy="13.2" r="7.0" fill="none" stroke="#f4dcb0" stroke-width="1.1"/>
<circle cx="23" cy="13.2" r="6.3" fill="#e2f4fc"/>
</svg></div>
<div class="cell c op" style="top:444.15px;left:681.3px">Ведро</div>
<div class="row roww" style="top:474.30px"></div>
<div class="cell st" style="top:474.30px;left:188.9px">В. Градиште</div>
<div class="cell c tp" style="top:474.30px;left:273.2px">20</div>
<div class="cell c n" style="top:474.30px;left:341.3px">1006.0</div>
<div class="cell c n" style="top:474.30px;left:390.8px">E</div>
<div class="cell c n" style="top:474.30px;left:435.3px">2</div>
<div class="cell c n" style="top:474.30px;left:487.0px">73</div>
<div class="cell c sj" style="top:474.30px;left:551.8px">20</div>
<div class="img" style="top:474.70px;left:635.3px"><svg width="44" height="28" viewBox="0 0 44 28"><rect width="44" height="28" fill="#e8f4fa"/>
<circle cx="23" cy="13.2" r="9.9" fill="none" stroke="#dcbc7c" stroke-width="1.2" stroke-dasharray="1.1 1.0"/>
<circle cx="23" cy="13.2" r="8.5" fill="none" stroke="#d0a95a" stroke-width="2.2"/>
<circle cx="23" cy="13.2" r="7.0" fill="none" stroke="#f4dcb0" stroke-width="1.1"/>
<circle cx="23" cy="13.2" r="6.3" fill="#e2f4fc"/>
</svg></div>
<div class="cell c op" style="top:474.30px;left:681.3px">Ведро</div>
<div class="row rowb" style="top:504.45px"></div>
<div class="cell st" style="top:504.45px;left:188.9px">Црни Врх</div>
<div class="cell c tp" style="top:504.45px;left:273.2px">21</div>
<div class="cell c n" style="top:504.45px;left:341.3px">901.5</div>
<div class="cell c n" style="top:504.45px;left:390.8px">NNW</div>
<div class="cell c n" style="top:504.45px;left:435.3px">3</div>
<div class="cell c n" style="top:504.45px;left:487.0px">64</div>
<div class="cell c sj" style="top:504.45px;left:551.8px">21</div>
<div class="bimg" style="top:513.75px;left:649.4px"><svg width="17" height="14" viewBox="0 0 17 14">
<defs><linearGradient id="bg1" x1="0" y1="0" x2="0" y2="1"><stop offset="0" stop-color="#eef1fa"/><stop offset="0.45" stop-color="#dfe6f2"/><stop offset="0.5" stop-color="#b9dcb6"/><stop offset="1" stop-color="#4f8f4c"/></linearGradient></defs>
<path d="M0.6 0.5 H8.6 L13.3 5.2 L11.2 6.8 L9.8 9.2 L7.5 13.2 H0.6 Z" fill="url(#bg1)" stroke="#8d93a3" stroke-width="1"/>
<path d="M1.2 12.6 V9.5 C3.5 7.6 6.5 7.6 9.2 9.5 L7.2 12.6 Z" fill="#6aa865" opacity="0.8"/>
<path d="M13.2 6.4 L15.6 7.8" stroke="#6e7484" stroke-width="1.6"/>
<path d="M9.6 13.2 L11.4 10.4 L13.2 11.4 V13.2 Z" fill="#8a8f98"/>
</svg></div>
<div class="cell c ds" style="top:504.45px;left:681.3px">-</div>
<div class="row roww" style="top:534.60px"></div>
<div class="cell st" style="top:534.60px;left:188.9px">Неготин</div>
<div class="cell c tp" style="top:534.60px;left:273.2px">23</div>
<div class="cell c n" style="top:534.60px;left:341.3px">1009.5</div>
<div class="cell c n dm" style="top:534.60px;left:390.8px">-</div>
<div class="cell c n" style="top:534.60px;left:435.3px">тихо</div>
<div class="cell c n" style="top:534.60px;left:487.0px">53</div>
<div class="cell c sj" style="top:534.60px;left:551.8px">23</div>
<div class="img" style="top:535.00px;left:635.3px"><svg width="44" height="28" viewBox="0 0 44 28"><rect width="44" height="28" fill="#e8f4fa"/>
<circle cx="23" cy="13.2" r="9.9" fill="none" stroke="#dcbc7c" stroke-width="1.2" stroke-dasharray="1.1 1.0"/>
<circle cx="23" cy="13.2" r="8.5" fill="none" stroke="#d0a95a" stroke-width="2.2"/>
<circle cx="23" cy="13.2" r="7.0" fill="none" stroke="#f4dcb0" stroke-width="1.1"/>
<circle cx="23" cy="13.2" r="6.3" fill="#e2f4fc"/>
</svg></div>
<div class="cell c op" style="top:534.60px;left:681.3px">Ведро</div>
<div class="row rowb" style="top:564.75px"></div>
<div class="cell st" style="top:564.75px;left:188.9px">Златибор</div>
<div class="cell c tp" style="top:564.75px;left:273.2px">20</div>
<div class="cell c n" style="top:564.75px;left:341.3px">902.8</div>
<div class="cell c n" style="top:564.75px;left:390.8px">W</div>
<div class="cell c n" style="top:564.75px;left:435.3px">2</div>
<div class="cell c n" style="top:564.75px;left:487.0px">56</div>
<div class="cell c sj" style="top:564.75px;left:551.8px">20</div>
<div class="bimg" style="top:574.05px;left:649.4px"><svg width="17" height="14" viewBox="0 0 17 14">
<defs><linearGradient id="bg1" x1="0" y1="0" x2="0" y2="1"><stop offset="0" stop-color="#eef1fa"/><stop offset="0.45" stop-color="#dfe6f2"/><stop offset="0.5" stop-color="#b9dcb6"/><stop offset="1" stop-color="#4f8f4c"/></linearGradient></defs>
<path d="M0.6 0.5 H8.6 L13.3 5.2 L11.2 6.8 L9.8 9.2 L7.5 13.2 H0.6 Z" fill="url(#bg1)" stroke="#8d93a3" stroke-width="1"/>
<path d="M1.2 12.6 V9.5 C3.5 7.6 6.5 7.6 9.2 9.5 L7.2 12.6 Z" fill="#6aa865" opacity="0.8"/>
<path d="M13.2 6.4 L15.6 7.8" stroke="#6e7484" stroke-width="1.6"/>
<path d="M9.6 13.2 L11.4 10.4 L13.2 11.4 V13.2 Z" fill="#8a8f98"/>
</svg></div>
<div class="cell c ds" style="top:564.75px;left:681.3px">-</div>
<div class="row roww" style="top:594.90px"></div>
<div class="cell st" style="top:594.90px;left:188.9px">Сјеница</div>
<div class="cell c tp" style="top:594.90px;left:273.2px">14</div>
<div class="cell c n" style="top:594.90px;left:341.3px">902.5</div>
<div class="cell c n" style="top:594.90px;left:390.8px">E</div>
<div class="cell c n" style="top:594.90px;left:435.3px">1</div>
<div class="cell c n" style="top:594.90px;left:487.0px">88</div>
<div class="cell c sj" style="top:594.90px;left:551.8px">14</div>
<div class="img" style="top:595.30px;left:635.3px"><svg width="44" height="28" viewBox="0 0 44 28"><rect width="44" height="28" fill="#e8f4fa"/>
<circle cx="23" cy="13.2" r="9.9" fill="none" stroke="#dcbc7c" stroke-width="1.2" stroke-dasharray="1.1 1.0"/>
<circle cx="23" cy="13.2" r="8.5" fill="none" stroke="#d0a95a" stroke-width="2.2"/>
<circle cx="23" cy="13.2" r="7.0" fill="none" stroke="#f4dcb0" stroke-width="1.1"/>
<circle cx="23" cy="13.2" r="6.3" fill="#e2f4fc"/>
</svg></div>
<div class="cell c op" style="top:594.90px;left:681.3px">Ведро</div>
<div class="row rowb" style="top:625.05px"></div>
<div class="cell st" style="top:625.05px;left:188.9px">Пожега</div>
<div class="cell c tp" style="top:625.05px;left:273.2px">18</div>
<div class="cell c n" style="top:625.05px;left:341.3px">980.7</div>
<div class="cell c n" style="top:625.05px;left:390.8px">N</div>
<div class="cell c n" style="top:625.05px;left:435.3px">1</div>
<div class="cell c n" style="top:625.05px;left:487.0px">83</div>
<div class="cell c sj" style="top:625.05px;left:551.8px">18</div>
<div class="img" style="top:625.45px;left:635.3px"><svg width="44" height="28" viewBox="0 0 44 28"><rect width="44" height="28" fill="#e8f4fa"/>
<circle cx="23" cy="13.2" r="9.9" fill="none" stroke="#dcbc7c" stroke-width="1.2" stroke-dasharray="1.1 1.0"/>
<circle cx="23" cy="13.2" r="8.5" fill="none" stroke="#d0a95a" stroke-width="2.2"/>
<circle cx="23" cy="13.2" r="7.0" fill="none" stroke="#f4dcb0" stroke-width="1.1"/>
<circle cx="23" cy="13.2" r="6.3" fill="#e2f4fc"/>
</svg></div>
<div class="cell c op" style="top:625.05px;left:681.3px">Ведро</div>
<div class="row roww" style="top:655.20px"></div>
<div class="cell st" style="top:655.20px;left:188.9px">Краљево</div>
<div class="cell c tp" style="top:655.20px;left:273.2px">22</div>
<div class="cell c n" style="top:655.20px;left:341.3px">990.7</div>
<div class="cell c n dm" style="top:655.20px;left:390.8px">-</div>
<div class="cell c n" style="top:655.20px;left:435.3px">тихо</div>
<div class="cell c n" style="top:655.20px;left:487.0px">73</div>
<div class="cell c sj" style="top:655.20px;left:551.8px">22</div>
<div class="img" style="top:655.60px;left:635.3px"><svg width="44" height="28" viewBox="0 0 44 28"><rect width="44" height="28" fill="#e8f4fa"/>
<circle cx="23" cy="13.2" r="9.9" fill="none" stroke="#dcbc7c" stroke-width="1.2" stroke-dasharray="1.1 1.0"/>
<circle cx="23" cy="13.2" r="8.5" fill="none" stroke="#d0a95a" stroke-width="2.2"/>
<circle cx="23" cy="13.2" r="7.0" fill="none" stroke="#f4dcb0" stroke-width="1.1"/>
<circle cx="23" cy="13.2" r="6.3" fill="#e2f4fc"/>
</svg></div>
<div class="cell c op" style="top:655.20px;left:681.3px">Ведро</div>
<div class="row rowb" style="top:685.35px"></div>
<div class="cell st" style="top:685.35px;left:188.9px">Копаоник</div>
<div class="cell c tp" style="top:685.35px;left:273.2px">17</div>
<div class="cell c n" style="top:685.35px;left:341.3px">834.2</div>
<div class="cell c n" style="top:685.35px;left:390.8px">NE</div>
<div class="cell c n" style="top:685.35px;left:435.3px">1</div>
<div class="cell c n" style="top:685.35px;left:487.0px">45</div>
<div class="cell c sj" style="top:685.35px;left:551.8px">17</div>
<div class="img" style="top:685.75px;left:635.3px"><svg width="44" height="28" viewBox="0 0 44 28"><rect width="44" height="28" fill="#e8f4fa"/>
<circle cx="23" cy="13.2" r="9.9" fill="none" stroke="#dcbc7c" stroke-width="1.2" stroke-dasharray="1.1 1.0"/>
<circle cx="23" cy="13.2" r="8.5" fill="none" stroke="#d0a95a" stroke-width="2.2"/>
<circle cx="23" cy="13.2" r="7.0" fill="none" stroke="#f4dcb0" stroke-width="1.1"/>
<circle cx="23" cy="13.2" r="6.3" fill="#e2f4fc"/>
</svg></div>
<div class="cell c op" style="top:685.35px;left:681.3px">Ведро</div>
<div class="row roww" style="top:715.50px"></div>
<div class="cell st" style="top:715.50px;left:188.9px">Куршумлија</div>
<div class="cell c tp" style="top:715.50px;left:273.2px">18</div>
<div class="cell c n" style="top:715.50px;left:341.3px">972.5</div>
<div class="cell c n" style="top:715.50px;left:390.8px">S</div>
<div class="cell c n" style="top:715.50px;left:435.3px">1</div>
<div class="cell c n" style="top:715.50px;left:487.0px">88</div>
<div class="cell c sj" style="top:715.50px;left:551.8px">18</div>
<div class="img" style="top:715.90px;left:635.6px"><svg width="44" height="28" viewBox="0 0 44 28"><defs><linearGradient id="cg" x1="0" y1="0" x2="0.3" y2="1"><stop offset="0" stop-color="#e4f6fc"/><stop offset="0.55" stop-color="#a9cad8"/><stop offset="1" stop-color="#4f7488"/></linearGradient></defs>
<rect width="44" height="28" fill="#e8f4fa"/>
<circle cx="21.5" cy="14.5" r="10.4" fill="none" stroke="#e6c487" stroke-width="1.1" stroke-dasharray="1.1 1.0"/>
<circle cx="21.5" cy="14.5" r="9" fill="none" stroke="#d8ac64" stroke-width="2.2"/>
<circle cx="21.5" cy="14.5" r="7.5" fill="none" stroke="#f6e2bd" stroke-width="1"/>
<path d="M9.5 14.2 C8 13.6 8.2 10.2 10.8 9.6 C11.4 7.2 13.8 6.4 15.2 7.2 C16.4 4.6 20.6 4.4 21.8 7.6 C24 7.8 24.6 11 23.4 12.6 C23 13.8 22 14.2 21 14.2 Z" fill="url(#cg)" stroke="#5a7a8c" stroke-width="0.6"/>
</svg></div>
<div class="cell c op two" style="top:715.50px;left:681.3px">Претежно<br>ведро</div>
<div class="row rowb" style="top:745.65px"></div>
<div class="cell st" style="top:745.65px;left:188.9px">Крушевац</div>
<div class="cell c tp" style="top:745.65px;left:273.2px">21</div>
<div class="cell c n" style="top:745.65px;left:341.3px">996.9</div>
<div class="cell c n" style="top:745.65px;left:390.8px">S</div>
<div class="cell c n" style="top:745.65px;left:435.3px">1</div>
<div class="cell c n" style="top:745.65px;left:487.0px">78</div>
<div class="cell c sj" style="top:745.65px;left:551.8px">21</div>
<div class="bimg" style="top:754.95px;left:649.4px"><svg width="17" height="14" viewBox="0 0 17 14">
<defs><linearGradient id="bg1" x1="0" y1="0" x2="0" y2="1"><stop offset="0" stop-color="#eef1fa"/><stop offset="0.45" stop-color="#dfe6f2"/><stop offset="0.5" stop-color="#b9dcb6"/><stop offset="1" stop-color="#4f8f4c"/></linearGradient></defs>
<path d="M0.6 0.5 H8.6 L13.3 5.2 L11.2 6.8 L9.8 9.2 L7.5 13.2 H0.6 Z" fill="url(#bg1)" stroke="#8d93a3" stroke-width="1"/>
<path d="M1.2 12.6 V9.5 C3.5 7.6 6.5 7.6 9.2 9.5 L7.2 12.6 Z" fill="#6aa865" opacity="0.8"/>
<path d="M13.2 6.4 L15.6 7.8" stroke="#6e7484" stroke-width="1.6"/>
<path d="M9.6 13.2 L11.4 10.4 L13.2 11.4 V13.2 Z" fill="#8a8f98"/>
</svg></div>
<div class="cell c ds" style="top:745.65px;left:681.3px">-</div>
<div class="row roww" style="top:775.80px"></div>
<div class="cell st" style="top:775.80px;left:188.9px">Ћуприја</div>
<div class="cell c tp" style="top:775.80px;left:273.2px">21</div>
<div class="cell c n" style="top:775.80px;left:341.3px">1001.8</div>
<div class="cell c n" style="top:775.80px;left:390.8px">SE</div>
<div class="cell c n" style="top:775.80px;left:435.3px">1</div>
<div class="cell c n" style="top:775.80px;left:487.0px">100</div>
<div class="cell c sj" style="top:775.80px;left:551.8px">21</div>
<div class="bimg" style="top:785.10px;left:649.4px"><svg width="17" height="14" viewBox="0 0 17 14">
<defs><linearGradient id="bg1" x1="0" y1="0" x2="0" y2="1"><stop offset="0" stop-color="#eef1fa"/><stop offset="0.45" stop-color="#dfe6f2"/><stop offset="0.5" stop-color="#b9dcb6"/><stop offset="1" stop-color="#4f8f4c"/></linearGradient></defs>
<path d="M0.6 0.5 H8.6 L13.3 5.2 L11.2 6.8 L9.8 9.2 L7.5 13.2 H0.6 Z" fill="url(#bg1)" stroke="#8d93a3" stroke-width="1"/>
<path d="M1.2 12.6 V9.5 C3.5 7.6 6.5 7.6 9.2 9.5 L7.2 12.6 Z" fill="#6aa865" opacity="0.8"/>
<path d="M13.2 6.4 L15.6 7.8" stroke="#6e7484" stroke-width="1.6"/>
<path d="M9.6 13.2 L11.4 10.4 L13.2 11.4 V13.2 Z" fill="#8a8f98"/>
</svg></div>
<div class="cell c ds" style="top:775.80px;left:681.3px">-</div>
<div class="row rowb" style="top:805.95px"></div>
<div class="cell st" style="top:805.95px;left:188.9px">Ниш</div>
<div class="cell c tp" style="top:805.95px;left:273.2px">20</div>
<div class="cell c n" style="top:805.95px;left:341.3px">992.2</div>
<div class="cell c n" style="top:805.95px;left:390.8px">ENE</div>
<div class="cell c n" style="top:805.95px;left:435.3px">1</div>
<div class="cell c n" style="top:805.95px;left:487.0px">64</div>
<div class="cell c sj" style="top:805.95px;left:551.8px">20</div>
<div class="img" style="top:806.35px;left:635.3px"><svg width="44" height="28" viewBox="0 0 44 28"><rect width="44" height="28" fill="#e8f4fa"/>
<circle cx="23" cy="13.2" r="9.9" fill="none" stroke="#dcbc7c" stroke-width="1.2" stroke-dasharray="1.1 1.0"/>
<circle cx="23" cy="13.2" r="8.5" fill="none" stroke="#d0a95a" stroke-width="2.2"/>
<circle cx="23" cy="13.2" r="7.0" fill="none" stroke="#f4dcb0" stroke-width="1.1"/>
<circle cx="23" cy="13.2" r="6.3" fill="#e2f4fc"/>
</svg></div>
<div class="cell c op" style="top:805.95px;left:681.3px">Ведро</div>
<div class="row roww" style="top:836.10px"></div>
<div class="cell st" style="top:836.10px;left:188.9px">Лесковац</div>
<div class="cell c tp" style="top:836.10px;left:273.2px">19</div>
<div class="cell c n" style="top:836.10px;left:341.3px">989.0</div>
<div class="cell c n dm" style="top:836.10px;left:390.8px">-</div>
<div class="cell c n" style="top:836.10px;left:435.3px">тихо</div>
<div class="cell c n" style="top:836.10px;left:487.0px">94</div>
<div class="cell c sj" style="top:836.10px;left:551.8px">19</div>
<div class="img" style="top:836.50px;left:635.3px"><svg width="44" height="28" viewBox="0 0 44 28"><rect width="44" height="28" fill="#e8f4fa"/>
<circle cx="23" cy="13.2" r="9.9" fill="none" stroke="#dcbc7c" stroke-width="1.2" stroke-dasharray="1.1 1.0"/>
<circle cx="23" cy="13.2" r="8.5" fill="none" stroke="#d0a95a" stroke-width="2.2"/>
<circle cx="23" cy="13.2" r="7.0" fill="none" stroke="#f4dcb0" stroke-width="1.1"/>
<circle cx="23" cy="13.2" r="6.3" fill="#e2f4fc"/>
</svg></div>
<div class="cell c op" style="top:836.10px;left:681.3px">Ведро</div>
<div class="row rowb" style="top:866.25px"></div>
<div class="cell st" style="top:866.25px;left:188.9px">Зајечар</div>
<div class="cell c tp" style="top:866.25px;left:273.2px">17</div>
<div class="cell c n" style="top:866.25px;left:341.3px">999.0</div>
<div class="cell c n dm" style="top:866.25px;left:390.8px">-</div>
<div class="cell c n" style="top:866.25px;left:435.3px">тихо</div>
<div class="cell c n" style="top:866.25px;left:487.0px">88</div>
<div class="cell c sj" style="top:866.25px;left:551.8px">17</div>
<div class="img" style="top:866.65px;left:635.3px"><svg width="44" height="28" viewBox="0 0 44 28"><rect width="44" height="28" fill="#e8f4fa"/>
<circle cx="23" cy="13.2" r="9.9" fill="none" stroke="#dcbc7c" stroke-width="1.2" stroke-dasharray="1.1 1.0"/>
<circle cx="23" cy="13.2" r="8.5" fill="none" stroke="#d0a95a" stroke-width="2.2"/>
<circle cx="23" cy="13.2" r="7.0" fill="none" stroke="#f4dcb0" stroke-width="1.1"/>
<circle cx="23" cy="13.2" r="6.3" fill="#e2f4fc"/>
</svg></div>
<div class="cell c op" style="top:866.25px;left:681.3px">Ведро</div>
<div class="row roww" style="top:896.40px"></div>
<div class="cell st" style="top:896.40px;left:188.9px">Димитровград</div>
<div class="cell c tp" style="top:896.40px;left:273.2px">18</div>
<div class="cell c n" style="top:896.40px;left:341.3px">964.9</div>
<div class="cell c n" style="top:896.40px;left:390.8px">ENE</div>
<div class="cell c n" style="top:896.40px;left:435.3px">1</div>
<div class="cell c n" style="top:896.40px;left:487.0px">60</div>
<div class="cell c sj" style="top:896.40px;left:551.8px">18</div>
<div class="img" style="top:896.80px;left:635.3px"><svg width="44" height="28" viewBox="0 0 44 28"><rect width="44" height="28" fill="#e8f4fa"/>
<circle cx="23" cy="13.2" r="9.9" fill="none" stroke="#dcbc7c" stroke-width="1.2" stroke-dasharray="1.1 1.0"/>
<circle cx="23" cy="13.2" r="8.5" fill="none" stroke="#d0a95a" stroke-width="2.2"/>
<circle cx="23" cy="13.2" r="7.0" fill="none" stroke="#f4dcb0" stroke-width="1.1"/>
<circle cx="23" cy="13.2" r="6.3" fill="#e2f4fc"/>
</svg></div>
<div class="cell c op" style="top:896.40px;left:681.3px">Ведро</div>
<div class="row rowb" style="top:926.55px"></div>
<div class="cell st" style="top:926.55px;left:188.9px">Врање</div>
<div class="cell c tp" style="top:926.55px;left:273.2px">18</div>
<div class="cell c n" style="top:926.55px;left:341.3px">967.1</div>
<div class="cell c n dm" style="top:926.55px;left:390.8px">-</div>
<div class="cell c n" style="top:926.55px;left:435.3px">тихо</div>
<div class="cell c n" style="top:926.55px;left:487.0px">100</div>
<div class="cell c sj" style="top:926.55px;left:551.8px">18</div>
<div class="bimg" style="top:935.85px;left:649.4px"><svg width="17" height="14" viewBox="0 0 17 14">
<defs><linearGradient id="bg1" x1="0" y1="0" x2="0" y2="1"><stop offset="0" stop-color="#eef1fa"/><stop offset="0.45" stop-color="#dfe6f2"/><stop offset="0.5" stop-color="#b9dcb6"/><stop offset="1" stop-color="#4f8f4c"/></linearGradient></defs>
<path d="M0.6 0.5 H8.6 L13.3 5.2 L11.2 6.8 L9.8 9.2 L7.5 13.2 H0.6 Z" fill="url(#bg1)" stroke="#8d93a3" stroke-width="1"/>
<path d="M1.2 12.6 V9.5 C3.5 7.6 6.5 7.6 9.2 9.5 L7.2 12.6 Z" fill="#6aa865" opacity="0.8"/>
<path d="M13.2 6.4 L15.6 7.8" stroke="#6e7484" stroke-width="1.6"/>
<path d="M9.6 13.2 L11.4 10.4 L13.2 11.4 V13.2 Z" fill="#8a8f98"/>
</svg></div>
<div class="cell c ds" style="top:926.55px;left:681.3px">-</div>

<div class="notes" style="top:956.5px;height:222.5px"></div>
<div class="nl" style="top:957.90px;letter-spacing:-0.026px">(1) Подаци ажурирани:&nbsp; 07:08 25.06.2025</div>
<div class="nsep" style="top:974.6px"></div>
<div class="nl" style="top:976.50px;letter-spacing:-0.026px">(2) 1 hPa (hektopascal) = 1 mb (milibar)</div>
<div class="nsep" style="top:992.6px"></div>
<div class="nl" style="top:994.50px;letter-spacing:0.000px">(3) Субјективни осећај температуре представља меру осећаја топлоте при</div>
<div class="nl" style="top:1012.85px;letter-spacing:0.094px">дужем излагању људског тела утицају екстремно топлог и влажног времена</div>
<div class="nl" style="top:1031.20px;letter-spacing:-0.033px">(у периоду од 1. априла до 31. октобра), односно меру осећаја хладноће при</div>
<div class="nl" style="top:1049.55px;letter-spacing:0.111px">специфичним комбинацијама екстремно ниских температура ваздуха и</div>
<div class="nl" style="top:1067.90px;letter-spacing:-0.020px">брзине ветра (у периоду од 1. новембра до 31. марта)</div>
<div class="nsep" style="top:1085.7px"></div>
<div class="nl" style="top:1087.60px;letter-spacing:-0.029px">(4) Станице у Кикинди, Зрењанину, Крушевцу и Врању са људском посадом</div>
<div class="nl" style="top:1105.95px;letter-spacing:-0.015px">врше мерења и осматрања од 07 (06 УТЦ) закључно са 19(18 УТЦ) часова.</div>
<div class="nl" style="top:1124.30px;letter-spacing:0.045px">&nbsp;Подаци о температури, влажности и притиску ваздуха, правцу и брзини</div>
<div class="nl" style="top:1142.65px;letter-spacing:0.057px">ветра ван овог времена за ове станице налазе се на страници "Аутоматске</div>
<div class="nl" style="top:1161.00px;letter-spacing:0.100px">метеоролошке станице"</div>

<div class="foot">Подаци са аутоматских метеоролошких станица на ДОПУНСКЕ мреже аутоматских станица:&nbsp; СРЕДА 25.06.2025</div>
</div></body></html>
